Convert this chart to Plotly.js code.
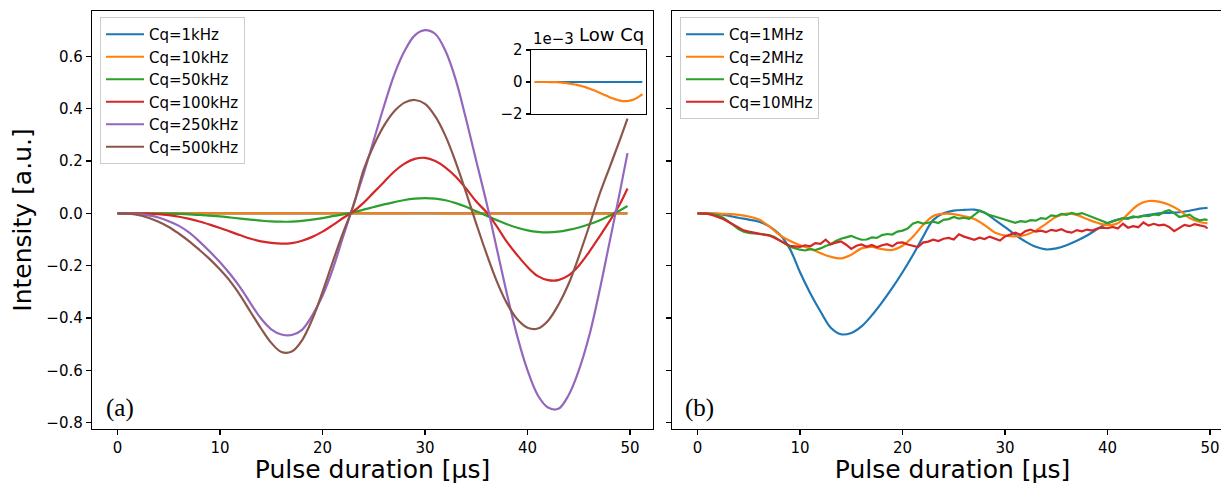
<!DOCTYPE html>
<html>
<head>
<meta charset="utf-8">
<script src="https://cdn.plot.ly/plotly-3.0.1.min.js"></script>
<style>
html, body { margin: 0; padding: 0; overflow: hidden; background: #ffffff; }
#chart { width: 1240px; height: 484px; }
</style>
</head>
<body>
<div id="chart"></div>
<script>
// ---------- data: panel (a), low Cq simulations ----------
const tA = [0,1,2,3,4,5,6,7,8,9,10,11,12,13,14,15,16,17,18,19,20,21,22,23,24,25,26,27,28,29,30,31,32,33,34,35,36,37,38,39,40,41,42,43,44,45,46,47,48,49,49.75];

const labelsA = ["Cq=1kHz", "Cq=10kHz", "Cq=50kHz", "Cq=100kHz", "Cq=250kHz", "Cq=500kHz"];

const cq1kHz = [0,0,0,0,0,0,0,0,0,0,0,0,0,0,0,0,0,0,0,0,0,0,0,0,0,0,0,0,0,0,0,0,0,0,0,0,0,0,0,0,0,0,0,0,0,0,0,0,0,0,0];

const cq10kHz = [0,0,0,0,0,-0.0000005,-0.000001,-0.000002,-0.000004,-0.000007,
  -0.00001,-0.00002,-0.00003,-0.000045,-0.00006,-0.00008,-0.0001,-0.00012,-0.00014,-0.000165,
  -0.000195,-0.00023,-0.000265,-0.000305,-0.00035,-0.0004,-0.00045,-0.0005,-0.00055,-0.00061,
  -0.00067,-0.00073,-0.00079,-0.00085,-0.00091,-0.00097,-0.00102,-0.00107,-0.00111,-0.00115,
  -0.00118,-0.001195,-0.0012,-0.00119,-0.001165,-0.00113,-0.00108,-0.00101,-0.00093,-0.00084,-0.00076];

const cq50kHz = [0,0,0,-0.0002,-0.0005,-0.001,-0.002,-0.004,-0.006,-0.009,
  -0.012,-0.016,-0.02,-0.024,-0.028,-0.031,-0.032,-0.032,-0.029,-0.024,
  -0.018,-0.011,-0.004,0.004,0.014,0.024,0.034,0.043,0.051,0.056,
  0.058,0.056,0.05,0.039,0.025,0.008,-0.009,-0.026,-0.042,-0.055,
  -0.065,-0.071,-0.073,-0.07,-0.063,-0.054,-0.042,-0.027,-0.009,0.011,0.028];

const cq100kHz = [0,0,-0.0005,-0.0015,-0.003,-0.007,-0.013,-0.021,-0.031,-0.043,
  -0.056,-0.07,-0.084,-0.097,-0.107,-0.113,-0.116,-0.114,-0.105,-0.09,
  -0.07,-0.045,-0.018,0.007,0.04,0.08,0.12,0.16,0.19,0.208,
  0.212,0.2,0.175,0.14,0.095,0.045,0.004,-0.05,-0.11,-0.16,
  -0.205,-0.24,-0.255,-0.255,-0.237,-0.2,-0.148,-0.09,-0.03,0.035,0.095];

const cq250kHz = [0,-0.0005,-0.003,-0.008,-0.016,-0.03,-0.048,-0.074,-0.108,-0.146,
  -0.187,-0.233,-0.285,-0.345,-0.402,-0.443,-0.463,-0.465,-0.445,-0.39,
  -0.315,-0.213,-0.09,0.03,0.15,0.28,0.41,0.53,0.62,0.68,
  0.70,0.685,0.62,0.51,0.36,0.2,0.04,-0.135,-0.31,-0.47,
  -0.6,-0.695,-0.742,-0.747,-0.695,-0.6,-0.47,-0.3,-0.11,0.08,0.23];

const cq500kHz = [0,-0.001,-0.006,-0.017,-0.032,-0.052,-0.078,-0.107,-0.14,-0.175,
  -0.215,-0.26,-0.315,-0.378,-0.44,-0.495,-0.53,-0.528,-0.485,-0.405,
  -0.3,-0.185,-0.075,0.028,0.165,0.26,0.335,0.39,0.423,0.433,
  0.418,0.37,0.295,0.195,0.08,-0.04,-0.155,-0.26,-0.345,-0.405,
  -0.437,-0.44,-0.41,-0.35,-0.27,-0.165,-0.05,0.07,0.175,0.28,0.362];

// ---------- data: panel (b), high Cq ----------
const labelsB = ["Cq=1MHz", "Cq=2MHz", "Cq=5MHz", "Cq=10MHz"];

const tB = [0,1,2,3,4,5,6,7,8,9,10,11,12,13,14,15,16,17,18,19,20,21,22,23,24,25,26,27,28,29,30,31,32,33,34,35,36,37,38,39,40,41,42,43,44,45,46,47,48,49,49.75];

const tBfine = [0,0.5,1,1.5,2,2.5,3,3.5,4,4.5,5,5.5,6,6.5,7,7.5,8,8.5,9,9.5,
  10,10.5,11,11.5,12,12.5,13,13.5,14,14.5,15,15.5,16,16.5,17,17.5,18,18.5,19,19.5,
  20,20.5,21,21.5,22,22.5,23,23.5,24,24.5,25,25.5,26,26.5,27,27.5,28,28.5,29,29.5,
  30,30.5,31,31.5,32,32.5,33,33.5,34,34.5,35,35.5,36,36.5,37,37.5,38,38.5,39,39.5,
  40,40.5,41,41.5,42,42.5,43,43.5,44,44.5,45,45.5,46,46.5,47,47.5,48,48.5,49,49.5,49.75];

const cq1MHz = [0,0,-0.002,-0.009,-0.017,-0.024,-0.032,-0.05,-0.08,-0.135,
  -0.225,-0.305,-0.375,-0.437,-0.462,-0.457,-0.432,-0.39,-0.34,-0.285,
  -0.225,-0.16,-0.09,-0.025,0.0,0.01,0.013,0.014,0.003,-0.025,
  -0.053,-0.082,-0.108,-0.128,-0.138,-0.134,-0.122,-0.105,-0.085,-0.06,
  -0.038,-0.024,-0.018,-0.013,-0.006,0.0,0.002,0.004,0.01,0.018,0.021];

const cq2MHz = [0,0,-0.001,-0.003,-0.006,-0.012,-0.024,-0.05,-0.082,-0.105,
  -0.122,-0.135,-0.152,-0.166,-0.172,-0.158,-0.134,-0.128,-0.137,-0.14,
  -0.124,-0.09,-0.045,-0.01,-0.002,-0.003,-0.011,-0.022,-0.045,-0.073,
  -0.085,-0.088,-0.083,-0.066,-0.04,-0.013,-0.001,-0.006,-0.022,-0.036,
  -0.045,-0.038,-0.002,0.033,0.047,0.045,0.033,0.012,-0.018,-0.033,-0.038];

const cq5MHz = [0,0,-0.001,-0.004,-0.008,-0.017,-0.03,-0.045,-0.06,-0.07,
  -0.075,-0.077,-0.078,-0.08,-0.083,-0.09,-0.103,-0.118,-0.128,-0.133,
  -0.139,-0.142,-0.137,-0.14,-0.134,-0.125,-0.118,-0.106,-0.097,-0.092,
  -0.086,-0.094,-0.101,-0.1,-0.092,-0.094,-0.083,-0.079,-0.081,-0.07,
  -0.066,-0.058,-0.04,-0.033,-0.039,-0.036,-0.032,-0.037,-0.025,-0.022,
  -0.014,-0.02,-0.017,-0.021,-0.006,0.009,0.002,-0.007,-0.012,-0.018,
  -0.024,-0.03,-0.036,-0.03,-0.033,-0.026,-0.028,-0.018,-0.021,-0.008,
  -0.011,-0.002,-0.006,0.002,-0.004,0.001,-0.007,-0.012,-0.02,-0.028,
  -0.037,-0.031,-0.024,-0.018,-0.021,-0.012,-0.015,-0.009,-0.011,-0.004,
  -0.007,0.006,0.012,0.001,-0.014,-0.01,-0.005,-0.019,-0.027,-0.023,-0.026];

const cq10MHz = [0,0,-0.002,-0.007,-0.014,-0.022,-0.032,-0.043,-0.055,-0.065,
  -0.07,-0.074,-0.077,-0.08,-0.085,-0.093,-0.104,-0.116,-0.124,-0.126,
  -0.128,-0.122,-0.126,-0.114,-0.117,-0.101,-0.118,-0.112,-0.107,-0.12,
  -0.136,-0.124,-0.119,-0.128,-0.121,-0.13,-0.122,-0.118,-0.126,-0.113,
  -0.111,-0.119,-0.124,-0.129,-0.112,-0.108,-0.101,-0.106,-0.097,-0.094,
  -0.1,-0.08,-0.089,-0.096,-0.101,-0.093,-0.098,-0.089,-0.096,-0.104,
  -0.088,-0.081,-0.074,-0.082,-0.068,-0.062,-0.07,-0.066,-0.072,-0.063,
  -0.067,-0.061,-0.07,-0.074,-0.064,-0.069,-0.062,-0.066,-0.058,-0.055,
  -0.057,-0.052,-0.058,-0.04,-0.055,-0.049,-0.053,-0.035,-0.047,-0.04,
  -0.046,-0.043,-0.052,-0.068,-0.055,-0.044,-0.049,-0.041,-0.046,-0.05,-0.058];

const insetTicks = [-0.002, 0, 0.002];
const insetTickText = ["\u22122", "0", "2"];
const xTicks = [0, 10, 20, 30, 40, 50];

// ---------- styling ----------
const colors = ["#1f77b4", "#ff7f0e", "#2ca02c", "#d62728", "#9467bd", "#8c564b"];
const FONT = "DejaVu Sans, Noto Sans, sans-serif";
const LW = 2.2;

const seriesA = [cq1kHz, cq10kHz, cq50kHz, cq100kHz, cq250kHz, cq500kHz];
const seriesB = [
  {x: tB, y: cq1MHz, shape: "spline"},
  {x: tB, y: cq2MHz, shape: "spline"},
  {x: tBfine, y: cq5MHz, shape: "linear"},
  {x: tBfine, y: cq10MHz, shape: "linear"}
];

const traces = [];
seriesA.forEach((ys, i) => {
  traces.push({
    type: "scatter", mode: "lines", x: tA, y: ys, name: labelsA[i],
    xaxis: "x", yaxis: "y", legend: "legend", legendgroup: "a" + i,
    line: {color: colors[i], width: LW, shape: "spline", smoothing: 1}
  });
});
seriesB.forEach((s, i) => {
  traces.push({
    type: "scatter", mode: "lines", x: s.x, y: s.y, name: labelsB[i],
    xaxis: "x2", yaxis: "y2", legend: "legend2", legendgroup: "b" + i,
    line: {color: colors[i], width: LW, shape: s.shape, smoothing: 1}
  });
});
// inset: the two lowest Cq
[cq1kHz, cq10kHz].forEach((ys, i) => {
  traces.push({
    type: "scatter", mode: "lines", x: tA, y: ys, name: labelsA[i] + " (inset)",
    xaxis: "x3", yaxis: "y3", showlegend: false,
    line: {color: colors[i], width: LW, shape: "spline", smoothing: 1}
  });
});

const axisBase = {
  showline: true, mirror: true, linecolor: "#000000", linewidth: 1.2,
  ticks: "outside", ticklen: 5, tickwidth: 1.2, tickcolor: "#000000",
  showgrid: false, zeroline: false,
  tickfont: {family: FONT, size: 15, color: "#000000"}
};

const W = 1240, H = 484, ML = 92, MR = 7, MT = 11, MB = 55;
const PW = W - ML - MR, PH = H - MT - MB;
const px = (x) => (x - ML) / PW;
const py = (y) => (H - MB - y) / PH;

const legendBase = {
  xanchor: "left", yanchor: "top",
  bgcolor: "rgba(255,255,255,0.85)", bordercolor: "#cccccc", borderwidth: 1,
  font: {family: FONT, size: 15, color: "#000000"}, tracegroupgap: 3, traceorder: "normal",
  itemwidth: 38
};

const layout = {
  width: W, height: H,
  margin: {l: ML, r: MR, t: MT, b: MB, pad: 0},
  paper_bgcolor: "#ffffff", plot_bgcolor: "rgba(0,0,0,0)",
  font: {family: FONT, color: "#000000"},
  xaxis: Object.assign({}, axisBase, {
    domain: [0, px(653)], anchor: "y", range: [-2.4875, 52.2375], tickvals: xTicks,
    title: {text: "Pulse duration [µs]", font: {family: FONT, size: 25, color: "#000000"}, standoff: 4}
  }),
  yaxis: Object.assign({}, axisBase, {
    domain: [0, 1], anchor: "x", range: [-0.824, 0.773], tick0: 0, dtick: 0.2, tickformat: ".1f",
    title: {text: "Intensity [a.u.]", font: {family: FONT, size: 25, color: "#000000"}, standoff: 7}
  }),
  xaxis2: Object.assign({}, axisBase, {
    domain: [px(672), 1], anchor: "y2", range: [-2.4875, 52.2375], tickvals: xTicks,
    title: {text: "Pulse duration [µs]", font: {family: FONT, size: 25, color: "#000000"}, standoff: 4}
  }),
  yaxis2: Object.assign({}, axisBase, {
    domain: [0, 1], anchor: "x2", range: [-0.824, 0.773], tick0: 0, dtick: 0.2, showticklabels: false
  }),
  xaxis3: Object.assign({}, axisBase, {
    domain: [px(530.7), px(645.7)], anchor: "y3", range: [-1.85, 51.32],
    ticks: "", showticklabels: false
  }),
  yaxis3: Object.assign({}, axisBase, {
    domain: [py(114), py(50)], anchor: "x3", range: [-0.002, 0.002],
    tickvals: insetTicks, ticktext: insetTickText, ticklen: 4
  }),
  legend: Object.assign({}, legendBase, {x: px(100), y: py(17)}),
  legend2: Object.assign({}, legendBase, {x: px(680), y: py(17)}),
  annotations: [
    {text: "(a)", xref: "paper", yref: "paper", x: px(104), y: py(408), xanchor: "left", yanchor: "middle",
     showarrow: false, font: {family: "Liberation Serif, DejaVu Serif, serif", size: 25, color: "#000000"}},
    {text: "(b)", xref: "paper", yref: "paper", x: px(683), y: py(408), xanchor: "left", yanchor: "middle",
     showarrow: false, font: {family: "Liberation Serif, DejaVu Serif, serif", size: 25, color: "#000000"}},
    {text: "Low Cq", xref: "paper", yref: "paper", x: px(646), y: py(35), xanchor: "right", yanchor: "middle",
     showarrow: false, font: {family: FONT, size: 18, color: "#000000"}},
    {text: "1e\u22123", xref: "paper", yref: "paper", x: px(531), y: py(39), xanchor: "left", yanchor: "middle",
     showarrow: false, font: {family: FONT, size: 15, color: "#000000"}}
  ],
  showlegend: true
};

Plotly.newPlot("chart", traces, layout, {staticPlot: true, displayModeBar: false});
</script>
</body>
</html>
